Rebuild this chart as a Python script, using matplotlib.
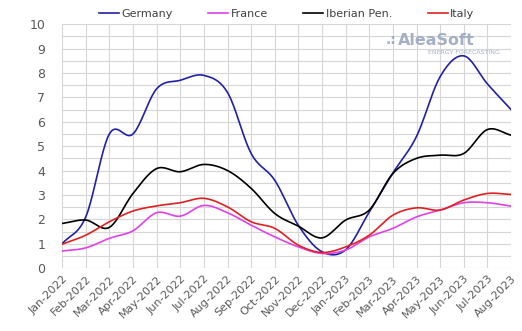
import numpy as np
import matplotlib.pyplot as plt

# Monthly averages, Jan-2022 .. Aug-2023
months = ['Jan-2022', 'Feb-2022', 'Mar-2022', 'Apr-2022', 'May-2022', 'Jun-2022',
          'Jul-2022', 'Aug-2022', 'Sep-2022', 'Oct-2022', 'Nov-2022', 'Dec-2022',
          'Jan-2023', 'Feb-2023', 'Mar-2023', 'Apr-2023', 'May-2023', 'Jun-2023',
          'Jul-2023', 'Aug-2023']

germany = [1.0, 2.1, 5.5, 5.5, 7.35, 7.7, 7.9, 7.2, 4.7, 3.6, 1.75, 0.67,
           0.75, 2.3, 3.9, 5.4, 7.85, 8.7, 7.55, 6.5]
france = [0.7, 0.83, 1.22, 1.53, 2.27, 2.13, 2.57, 2.27, 1.76, 1.28, 0.87, 0.6,
          0.74, 1.28, 1.63, 2.1, 2.38, 2.68, 2.68, 2.54]
iberian = [1.83, 1.97, 1.67, 3.06, 4.08, 3.95, 4.25, 4.0, 3.27, 2.24, 1.72, 1.24,
           1.97, 2.38, 3.88, 4.5, 4.63, 4.7, 5.68, 5.45]
italy = [0.98, 1.35, 1.9, 2.34, 2.55, 2.68, 2.86, 2.51, 1.9, 1.63, 0.94, 0.64,
         0.87, 1.35, 2.17, 2.47, 2.38, 2.79, 3.06, 3.02]


def smooth(y, n=20):
    # Catmull-Rom curve through the points, like a spreadsheet "smoothed line"
    y = np.asarray(y, dtype=float)
    x = np.arange(len(y), dtype=float)
    xp = np.concatenate([[2 * x[0] - x[1]], x, [2 * x[-1] - x[-2]]])
    yp = np.concatenate([[2 * y[0] - y[1]], y, [2 * y[-1] - y[-2]]])
    xs, ys = [], []
    t = np.linspace(0, 1, n, endpoint=False)
    for i in range(1, len(xp) - 2):
        for arr, out in ((xp, xs), (yp, ys)):
            p0, p1, p2, p3 = arr[i - 1], arr[i], arr[i + 1], arr[i + 2]
            out.extend(0.5 * (2 * p1 + (-p0 + p2) * t
                              + (2 * p0 - 5 * p1 + 4 * p2 - p3) * t ** 2
                              + (-p0 + 3 * p1 - 3 * p2 + p3) * t ** 3))
    xs.append(x[-1])
    ys.append(y[-1])
    return np.array(xs), np.array(ys)


fig = plt.figure(figsize=(5.22, 3.31), dpi=100)
ax = fig.add_axes([0.119, 0.19, 0.86, 0.737])

series = [('Germany', germany, '#2020a8'),
          ('France', france, '#e040e8'),
          ('Iberian Pen.', iberian, '#000000'),
          ('Italy', italy, '#e02020')]
for name, vals, col in series:
    xs, ys = smooth(vals)
    ax.plot(xs, ys, color=col, lw=1.2, label=name)

ax.set_xlim(0, len(months) - 1)
ax.set_ylim(0, 10)
ax.set_yticks(range(0, 11))
ax.set_yticks(np.arange(0, 10.5, 0.5), minor=True)
ax.set_xticks(range(len(months)))
ax.set_xticklabels(months, rotation=45, ha='right', rotation_mode='anchor')
ax.grid(True, which='both', color='#d6d6d6', lw=0.8)
ax.set_axisbelow(True)
for s in ax.spines.values():
    s.set_visible(False)
ax.tick_params(which='both', length=0, colors='#595959', labelsize=9)
ax.tick_params(axis='x', labelsize=8, pad=4)
ax.tick_params(axis='y', pad=12)

ax.legend(loc='lower center', bbox_to_anchor=(0.5, 1.0), ncol=4, frameon=False,
          fontsize=8, handlelength=1.8, handletextpad=0.2, columnspacing=3.2,
          borderaxespad=0.1, labelcolor='#404040')

# logo
ax.text(0.745, 0.935, '.:', transform=ax.transAxes, fontsize=10, color='#9aa8c0',
        fontweight='bold', ha='right', va='center', alpha=0.9)
ax.text(0.748, 0.935, 'AleaSoft', transform=ax.transAxes, fontsize=11.5,
        color='#9aa8c0', fontweight='bold', ha='left', va='center', alpha=0.9)
ax.text(0.975, 0.885, 'ENERGY FORECASTING', transform=ax.transAxes, fontsize=4.5,
        color='#9aa8c0', ha='right', va='center', alpha=0.9)

fig.savefig('out.png', dpi=100)
